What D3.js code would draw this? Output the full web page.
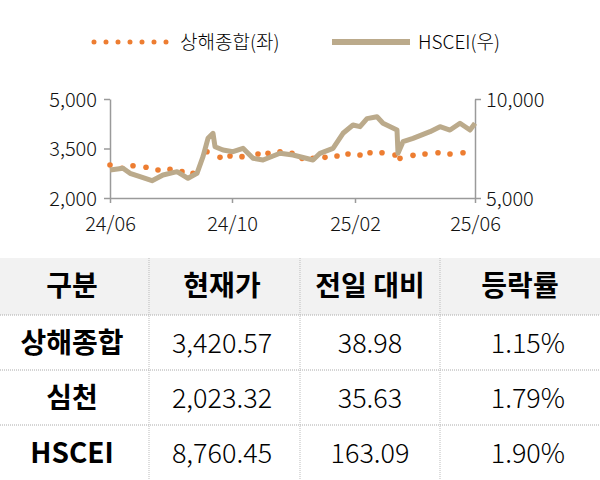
<!DOCTYPE html>
<html><head><meta charset="utf-8">
<script src="https://cdn.jsdelivr.net/npm/d3@7"></script>
<style>body{margin:0;background:#fff;font-family:"Noto Sans CJK KR","Noto Sans",sans-serif;}</style>
</head><body><svg id="c" width="600" height="480"></svg>
<script>
// day offsets from 2024-06-01
const hsceiDays = [0,13,20,30,42,53,67,78,87,93,98,103,105,113,123,133,143,153,170,183,203,210,223,233,243,250,257,267,273,287,288,293,303,320,330,340,350,360,365];
const hsceiVals = [6414,6500,6247,6076,5874,6162,6330,5995,6247,7086,8015,8268,7591,7424,7340,7510,7005,6919,7258,7172,6919,7258,7510,8268,8687,8602,9010,9106,8773,8434,7258,7844,8015,8349,8602,8434,8773,8434,8773];
const shDays = [0,12,23,36,48,60,72,83,97,110,120,132,148,158,170,182,192,203,215,227,238,250,260,272,285,290,303,315,328,340,353];
const shVals = [3000,2900,2979,2930,2848,2869,2798,2748,3403,3232,3273,3253,3333,3353,3403,3353,3202,3202,3232,3273,3333,3303,3373,3373,3303,3202,3293,3333,3373,3333,3373];
const xTickLabels = ["24/06","24/10","25/02","25/06"];
const leftTicks = [2000,3500,5000], rightTicks = [5000,10000];
const headers = ["구분","현재가","전일 대비","등락률"];
const rowNames = ["상해종합","심천","HSCEI"];
const prices = ["3,420.57","2,023.32","8,760.45"];
const changes = ["38.98","35.63","163.09"];
const rates = ["1.15%","1.79%","1.90%"];

const svg = d3.select("#c");
const orange = "#ED7D31", tan = "#BBAA8B", grey = "#9a9a9a";
const t0 = new Date(2024,5,1);
const day = d => d3.timeDay.offset(t0, d);

const x = d3.scaleTime().domain([t0, new Date(2025,5,1)]).range([110,475]);
const yL = d3.scaleLinear().domain([2000,5000]).range([198,99]);
const yR = d3.scaleLinear().domain([5000,10000]).range([198,99]);

// legend
svg.append("line").attr("x1",94).attr("x2",168).attr("y1",42).attr("y2",42)
  .attr("stroke",orange).attr("stroke-width",5).attr("stroke-linecap","round").attr("stroke-dasharray","0 12");
svg.append("text").attr("x",180).attr("y",49).attr("font-size",19).attr("font-weight",300).text("상해종합(좌)");
svg.append("line").attr("x1",332).attr("x2",410).attr("y1",42).attr("y2",42)
  .attr("stroke",tan).attr("stroke-width",6);
svg.append("text").attr("x",418).attr("y",49).attr("font-size",19).attr("font-weight",300).text("HSCEI(우)");

// axes
const xAxis = d3.axisBottom(x).tickValues([0,4,8,12].map(m => new Date(2024,5+m,1)))
  .tickFormat((d,i) => xTickLabels[i]).tickSize(5).tickSizeOuter(0);
const gx = svg.append("g").attr("transform","translate(0,198)").call(xAxis);
const gl = svg.append("g").attr("transform","translate(110,0)")
  .call(d3.axisLeft(yL).tickValues(leftTicks).tickFormat(d3.format(",")).tickSize(6).tickSizeOuter(0));
const gr = svg.append("g").attr("transform","translate(475,0)")
  .call(d3.axisRight(yR).tickValues(rightTicks).tickFormat(d3.format(",")).tickSize(6).tickSizeOuter(0));
[gx,gl,gr].forEach(g => {
  g.attr("font-size",20).attr("font-family","Noto Sans CJK KR");
  g.selectAll("path,line").attr("stroke",grey).attr("stroke-width",1.5);
  g.selectAll("text").attr("fill","#111").attr("font-weight",300);
});
gx.selectAll("text").attr("dy","1.25em");
gl.selectAll("text").attr("dx","-0.2em").attr("dy","0.35em");
gr.selectAll("text").attr("dx","0.1em").attr("dy","0.35em");

// series
svg.append("g").selectAll("circle").data(shDays).join("circle")
  .attr("cx",(d,i)=>x(day(d))).attr("cy",(d,i)=>yL(shVals[i])).attr("r",2.8).attr("fill",orange);
svg.append("path").datum(hsceiDays.map((d,i)=>[day(d),hsceiVals[i]]))
  .attr("d", d3.line().x(d=>x(d[0])).y(d=>yR(d[1])))
  .attr("fill","none").attr("stroke",tan).attr("stroke-width",5).attr("stroke-linejoin","round");

// table
const colX = [0,149,300,440,600];
const rowY = [258,315,370,425,480];
svg.append("rect").attr("x",0).attr("y",rowY[0]).attr("width",600).attr("height",rowY[1]-rowY[0]).attr("fill","#f2f2f2");
rowY.slice(1,4).forEach(yy => svg.append("line").attr("x1",0).attr("x2",600).attr("y1",yy).attr("y2",yy)
  .attr("stroke","#aaa").attr("stroke-dasharray","1 1"));
colX.slice(1,4).forEach(xx => svg.append("line").attr("x1",xx).attr("x2",xx).attr("y1",rowY[0]).attr("y2",480)
  .attr("stroke","#bbb").attr("stroke-dasharray","1 1"));
const cx = [72,222,370,520];
headers.forEach((h,i) => svg.append("text").attr("x",cx[i]).attr("y",296).attr("text-anchor","middle")
  .attr("font-size",28).attr("font-weight","bold").text(h));
rowNames.forEach((n,r) => {
  const yy = (rowY[r+1]+rowY[r+2])/2 + 10;
  svg.append("text").attr("x",cx[0]).attr("y",yy).attr("text-anchor","middle").attr("font-size",28).attr("font-weight","bold").text(n);
  svg.append("text").attr("x",cx[1]).attr("y",yy).attr("text-anchor","middle").attr("font-size",27).attr("font-weight",300).text(prices[r]);
  svg.append("text").attr("x",cx[2]).attr("y",yy).attr("text-anchor","middle").attr("font-size",27).attr("font-weight",300).text(changes[r]);
  svg.append("text").attr("x",565).attr("y",yy).attr("text-anchor","end").attr("font-size",27).attr("font-weight",300).text(rates[r]);
});
</script></body></html>
